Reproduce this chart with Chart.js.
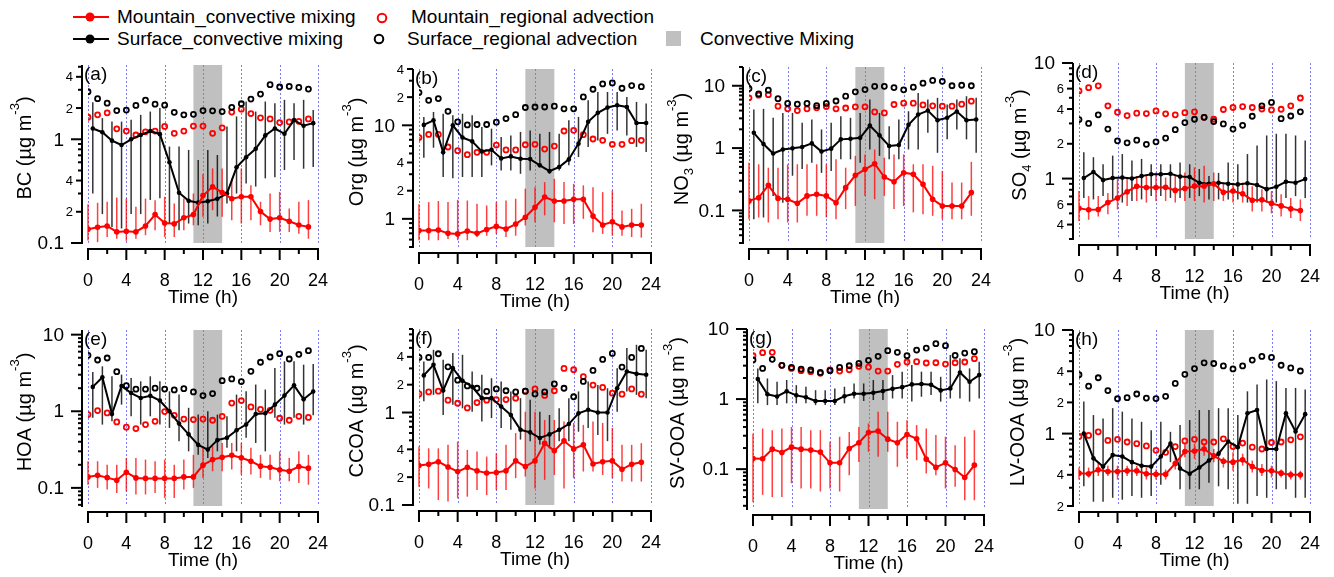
<!DOCTYPE html>
<html lang="en">
<head>
<meta charset="UTF-8">
<title>Diurnal cycles, mountain vs surface</title>
<script src="https://cdn.jsdelivr.net/npm/chart.js@4.4.0/dist/chart.umd.min.js"></script>
<style>
  body { margin:0; background:#fff; width:1334px; height:577px; position:relative; overflow:hidden;
         font-family:"Liberation Sans", Arial, sans-serif; }
  canvas { position:absolute; }
  .lg { position:absolute; font-size:19px; line-height:22px; color:#000; white-space:nowrap; }
  .mk { position:absolute; }
</style>
</head>
<body>
<svg class="mk" style="left:72px;top:8px" width="38" height="18"><line x1="1" y1="9" x2="37" y2="9" stroke="#f00" stroke-width="2"/><circle cx="18" cy="9" r="4.5" fill="#f00"/></svg>
<span class="lg" style="left:117px;top:6px">Mountain_convective mixing</span>
<svg class="mk" style="left:375px;top:11px" width="14" height="14"><circle cx="7" cy="7" r="4.3" fill="none" stroke="#f00" stroke-width="2"/></svg>
<span class="lg" style="left:411px;top:6px">Mountain_regional advection</span>
<svg class="mk" style="left:72px;top:30px" width="38" height="18"><line x1="1" y1="9" x2="37" y2="9" stroke="#000" stroke-width="2"/><circle cx="18" cy="9" r="4.5" fill="#000"/></svg>
<span class="lg" style="left:117px;top:28px">Surface_convective mixing</span>
<svg class="mk" style="left:372px;top:32px" width="14" height="14"><circle cx="7" cy="7" r="4.3" fill="none" stroke="#000" stroke-width="2"/></svg>
<span class="lg" style="left:407px;top:28px">Surface_regional advection</span>
<div class="mk" style="left:666px;top:31px;width:15px;height:15px;background:#c0c0c0"></div>
<span class="lg" style="left:700px;top:28px">Convective Mixing</span>

<script>
// hours of day; the surface convective series sits on the half hour
const hours = [0,1,2,3,4,5,6,7,8,9,10,11,12,13,14,15,16,17,18,19,20,21,22,23];
const hoursMid = [0.5,1.5,2.5,3.5,4.5,5.5,6.5,7.5,8.5,9.5,10.5,11.5,12.5,13.5,14.5,15.5,16.5,17.5,18.5,19.5,20.5,21.5,22.5,23.5];
const gridHours = [0,4,8,12,16,20,24];
const mixStart = 11, mixEnd = 14;

// (a) BC
const bcMtnConv   = [0.136,0.142,0.146,0.128,0.13,0.128,0.146,0.188,0.156,0.153,0.175,0.188,0.287,0.348,0.307,0.267,0.279,0.279,0.201,0.17,0.175,0.162,0.149,0.143];
const bcMtnConvLo = [0.106,0.102,0.114,0.110,0.105,0.110,0.119,0.133,0.114,0.114,0.133,0.148,0.179,0.207,0.179,0.166,0.154,0.166,0.148,0.128,0.128,0.128,0.123,0.110];
const bcMtnConvHi = [0.237,0.244,0.25,0.275,0.268,0.223,0.268,0.259,0.279,0.240,0.268,0.30,0.462,0.524,0.524,0.419,0.524,0.361,0.25,0.30,0.311,0.215,0.25,0.259];
const bcSfcConv   = [1.27,1.17,0.97,0.88,1.0,1.10,1.20,1.12,0.60,0.305,0.255,0.245,0.253,0.267,0.30,0.536,0.67,0.81,1.09,1.27,1.13,1.53,1.35,1.43];
const bcSfcConvLo = [0.30,0.19,0.143,0.138,0.19,0.19,0.26,0.27,0.154,0.133,0.154,0.148,0.154,0.18,0.24,0.30,0.375,0.35,0.42,0.43,0.505,0.63,0.52,0.54];
const bcSfcConvHi = [2.28,1.60,1.48,1.48,1.54,1.72,1.85,2.0,0.85,0.85,0.79,0.63,0.79,0.705,1.33,1.66,2.31,1.85,2.31,2.23,2.40,2.23,2.40,1.92];
const bcMtnReg    = [1.63,1.72,1.80,1.26,1.20,1.10,1.18,1.20,1.33,1.14,1.20,1.34,1.34,1.14,1.29,1.83,1.95,1.77,1.61,1.57,1.45,1.47,1.49,1.57];
const bcSfcReg    = [2.87,2.46,2.23,1.89,1.91,2.12,2.38,2.18,2.13,1.82,1.72,1.74,1.89,1.88,1.85,2.03,2.20,2.44,2.73,3.36,3.19,3.23,3.16,3.05];

// (b) Org
const orgMtnConv   = [0.75,0.75,0.76,0.70,0.69,0.74,0.70,0.77,0.83,0.78,0.88,1.04,1.33,1.71,1.55,1.55,1.62,1.62,1.07,0.86,0.93,0.82,0.86,0.86];
const orgMtnConvLo = [0.59,0.59,0.59,0.61,0.59,0.59,0.64,0.66,0.69,0.64,0.66,0.85,0.92,1.09,0.92,0.88,0.88,1.0,0.72,0.69,0.66,0.66,0.64,0.63];
const orgMtnConvHi = [1.43,1.51,1.55,1.51,1.60,1.57,1.45,1.39,1.51,1.57,1.64,2.10,2.18,2.47,2.68,2.47,2.37,2.28,2.18,1.93,2.01,1.23,1.28,1.45];
const orgSfcConv   = [10.1,11.3,5.14,10.0,7.4,6.74,5.26,5.48,4.43,4.65,4.39,4.35,3.73,3.24,3.58,4.32,6.37,10.9,13.6,15.5,16.4,15.7,10.6,10.6];
const orgSfcConvLo = [4.5,5.76,2.8,2.72,2.8,2.8,2.8,3.73,3.29,3.29,3.03,3.29,3.73,3.03,3.29,3.73,4.58,5.86,6.9,8.1,8.8,7.8,5.86,5.18];
const orgSfcConvHi = [12.3,13.9,13.3,12.8,13.3,12.8,9.6,9.2,7.5,7.8,8.5,8.8,8.1,8.5,8.1,11.3,12.3,18.5,22.7,22.7,22.7,20.1,17.8,17.1];
const orgMtnReg    = [7.4,8.0,8.0,5.86,5.36,4.85,5.14,5.14,6.15,5.45,5.45,6.2,6.26,5.57,6.0,8.69,8.84,7.94,7.14,6.91,6.26,6.26,6.85,6.91];
const orgSfcReg    = [22.4,18.5,19.3,14.1,10.9,10.1,10.2,10.2,10.8,11.8,13.0,15.5,15.7,15.7,16.0,15.0,15.0,20.1,24.3,27.7,28.4,24.9,26.6,25.9];

// (c) NO3
const no3MtnConv   = [0.142,0.16,0.253,0.156,0.151,0.13,0.171,0.181,0.171,0.133,0.232,0.365,0.456,0.56,0.343,0.289,0.403,0.38,0.262,0.151,0.118,0.118,0.118,0.193];
const no3MtnConvLo = [0.072,0.077,0.064,0.072,0.064,0.064,0.082,0.082,0.077,0.072,0.105,0.118,0.171,0.151,0.171,0.105,0.118,0.093,0.087,0.082,0.072,0.072,0.072,0.082];
const no3MtnConvHi = [0.58,0.55,0.485,0.485,0.55,0.55,0.55,0.55,0.55,0.66,0.485,0.75,0.79,0.95,0.70,0.79,0.79,0.55,0.55,0.52,0.43,0.28,0.28,0.60];
const no3SfcConv   = [1.76,1.16,0.82,0.95,0.99,1.04,1.19,0.88,0.98,1.38,1.41,1.46,2.3,1.6,1.08,1.12,2.36,3.46,4.0,2.8,3.06,3.86,2.8,2.87];
const no3SfcConvLo = [0.072,0.077,0.171,0.133,0.36,0.46,0.58,0.40,0.43,0.66,0.66,0.58,0.95,0.75,0.66,0.66,0.95,0.95,1.76,0.84,1.38,1.99,1.38,0.84];
const no3SfcConvHi = [4.15,4.26,3.06,3.67,3.67,2.54,2.87,1.99,2.54,3.25,3.06,3.67,6.0,3.67,2.25,2.87,3.9,7.68,6.0,6.4,5.0,6.0,6.8,6.4];
const no3MtnReg    = [6.4,7.05,7.2,4.7,4.26,4.0,4.26,4.42,4.64,4.26,4.4,4.6,4.6,3.8,3.67,5.0,5.25,5.25,4.93,4.76,4.7,4.7,5.06,5.65];
const no3SfcReg    = [9.0,7.4,8.5,6.2,5.2,5.06,5.2,4.8,5.2,5.7,6.8,8.0,8.7,9.8,9.8,9.35,8.6,9.5,11.0,12.2,11.8,10.0,10.2,10.0];

// (d) SO4
const so4MtnConv   = [0.553,0.536,0.54,0.62,0.68,0.77,0.857,0.835,0.835,0.84,0.79,0.82,0.86,0.86,0.90,0.76,0.78,0.74,0.65,0.655,0.61,0.58,0.547,0.53];
const so4MtnConvLo = [0.43,0.44,0.47,0.49,0.54,0.58,0.64,0.62,0.64,0.64,0.62,0.64,0.64,0.62,0.64,0.64,0.62,0.62,0.52,0.52,0.50,0.47,0.456,0.43];
const so4MtnConvHi = [0.78,0.705,0.705,0.75,0.99,1.02,1.05,1.09,1.13,1.02,1.05,1.13,1.25,1.29,1.13,0.92,0.92,0.92,0.86,0.81,0.78,0.73,0.68,0.66];
const so4SfcConv   = [1.01,1.14,0.97,1.01,1.02,1.0,1.05,1.09,1.09,1.1,1.04,1.03,0.92,0.90,0.92,0.90,0.89,0.91,0.88,0.81,0.85,0.94,0.92,0.99];
const so4SfcConvLo = [0.68,0.66,0.705,0.66,0.62,0.64,0.66,0.705,0.705,0.68,0.68,0.68,0.705,0.66,0.66,0.66,0.66,0.62,0.62,0.62,0.62,0.68,0.705,0.68];
const so4SfcConvHi = [1.69,1.53,1.33,1.58,1.63,1.43,1.48,1.33,1.33,1.33,1.38,1.33,1.21,1.05,1.12,1.38,1.33,1.63,1.93,2.36,2.44,2.44,2.36,2.13];
const so4MtnReg    = [5.73,6.12,6.34,4.26,3.75,3.51,3.68,3.65,3.85,3.63,3.56,3.72,3.78,3.39,3.26,3.96,4.12,4.2,4.12,4.0,3.93,3.98,4.26,4.98];
const so4SfcReg    = [3.24,3.0,3.56,2.68,2.12,2.04,2.15,1.98,2.08,2.24,2.65,3.05,3.26,3.39,3.11,2.97,2.68,2.89,3.46,4.26,4.56,3.30,3.48,3.78];

// (e) HOA
const hoaMtnConv   = [0.139,0.146,0.136,0.126,0.16,0.135,0.133,0.133,0.133,0.133,0.139,0.139,0.198,0.234,0.251,0.267,0.247,0.223,0.192,0.186,0.172,0.165,0.19,0.181];
const hoaMtnConvLo = [0.11,0.10,0.095,0.086,0.09,0.082,0.082,0.086,0.074,0.074,0.095,0.10,0.135,0.165,0.165,0.174,0.149,0.149,0.135,0.128,0.122,0.122,0.116,0.11];
const hoaMtnConvHi = [0.223,0.223,0.20,0.20,0.246,0.246,0.234,0.223,0.234,0.20,0.234,0.27,0.333,0.35,0.386,0.386,0.386,0.333,0.27,0.27,0.30,0.246,0.30,0.27];
const hoaSfcConv   = [2.08,2.78,0.92,2.14,1.73,1.49,1.59,1.38,1.0,0.69,0.50,0.364,0.316,0.42,0.45,0.565,0.67,0.92,0.94,1.22,1.60,2.18,1.43,1.81];
const hoaSfcConvLo = [0.82,0.67,0.74,1.22,0.86,0.67,0.86,0.67,0.606,0.406,0.30,0.27,0.246,0.30,0.333,0.30,0.45,0.386,0.30,0.82,0.67,0.82,0.67,0.887];
const hoaSfcConvHi = [3.26,3.86,2.86,3.01,2.72,2.46,2.86,2.46,1.82,1.65,1.11,0.905,1.0,0.905,0.86,1.65,1.82,2.23,1.92,3.67,4.49,4.49,4.06,4.14];
const hoaMtnReg    = [0.905,1.02,0.95,0.726,0.62,0.594,0.67,0.74,0.99,0.886,0.79,0.78,0.79,0.763,0.86,1.28,1.38,1.14,1.06,1.03,0.81,0.763,0.86,0.83];
const hoaSfcReg    = [5.37,4.67,4.96,3.29,2.16,1.94,1.94,2.0,1.95,1.90,1.97,1.79,1.60,1.70,2.51,2.64,2.44,3.32,4.36,5.11,5.65,4.81,5.54,6.18];

// (f) CCOA
const ccoaMtnConv   = [0.267,0.276,0.294,0.258,0.23,0.256,0.234,0.222,0.224,0.234,0.30,0.26,0.30,0.466,0.385,0.494,0.404,0.447,0.278,0.294,0.30,0.243,0.276,0.29];
const ccoaMtnConvLo = [0.158,0.151,0.113,0.109,0.118,0.123,0.145,0.128,0.145,0.145,0.195,0.203,0.151,0.187,0.211,0.151,0.195,0.23,0.23,0.211,0.195,0.179,0.179,0.179];
const ccoaMtnConvHi = [0.428,0.41,0.41,0.447,0.485,0.394,0.378,0.334,0.363,0.447,0.60,1.02,1.02,0.83,0.83,0.80,0.77,0.735,0.80,0.77,0.68,0.447,0.447,0.466];
const ccoaSfcConv   = [2.52,3.28,1.73,3.02,2.2,1.9,1.43,1.43,1.16,0.94,0.65,0.61,0.53,0.58,0.65,0.75,0.98,1.07,1.0,1.0,1.83,2.78,2.62,2.56];
const ccoaSfcConvLo = [1.32,1.55,0.94,1.21,1.11,1.02,0.80,0.87,0.68,0.65,0.51,0.49,0.45,0.41,0.49,0.49,0.62,0.68,0.57,0.49,1.02,1.69,1.55,1.43];
const ccoaSfcConvHi = [3.57,4.77,3.72,4.39,4.21,2.78,2.56,2.35,2.17,1.69,1.43,1.37,1.02,0.94,1.11,1.43,1.69,2.17,1.99,1.83,3.02,4.97,5.4,4.77];
const ccoaMtnReg    = [1.59,1.67,1.70,1.36,1.26,1.12,1.28,1.36,1.38,1.38,1.43,1.70,1.80,1.53,1.72,3.0,2.9,2.45,1.98,1.87,1.62,1.58,1.80,1.58];
const ccoaSfcReg    = [3.94,3.94,4.32,3.12,2.24,1.94,1.83,1.69,1.80,1.72,1.67,1.70,1.59,1.67,2.04,1.83,1.48,2.17,2.85,3.75,4.35,3.1,3.94,4.93];

// (g) SV-OOA
const svMtnConv   = [0.142,0.141,0.193,0.173,0.206,0.193,0.187,0.175,0.123,0.123,0.197,0.238,0.334,0.349,0.268,0.238,0.313,0.271,0.139,0.106,0.123,0.099,0.076,0.114];
const svMtnConvLo = [0.034,0.043,0.04,0.04,0.063,0.053,0.053,0.048,0.053,0.048,0.082,0.127,0.177,0.15,0.177,0.108,0.142,0.134,0.087,0.082,0.053,0.056,0.036,0.036];
const svMtnConvHi = [0.32,0.38,0.36,0.38,0.40,0.40,0.36,0.36,0.246,0.29,0.34,0.40,0.45,0.66,0.66,0.475,0.50,0.425,0.38,0.306,0.29,0.22,0.29,0.36];
const svSfcConv   = [1.93,1.17,1.09,1.29,1.13,1.06,0.94,0.94,0.94,1.10,1.19,1.19,1.23,1.30,1.40,1.48,1.62,1.64,1.60,1.33,1.42,2.40,1.77,2.20];
const svSfcConvLo = [0.87,0.82,0.82,0.87,0.87,0.87,0.82,0.82,0.82,0.87,1.02,0.94,0.97,0.97,1.02,1.02,0.92,1.08,1.14,0.92,1.02,1.02,0.92,1.02];
const svSfcConvHi = [2.74,1.97,1.77,1.87,1.58,1.50,1.34,1.34,1.42,1.50,1.67,1.67,1.87,1.87,2.2,2.46,3.06,2.46,2.46,2.08,4.26,3.81,2.74,3.42];
const svMtnReg    = [4.16,4.59,4.64,3.03,2.74,2.54,2.46,2.33,2.60,2.51,2.62,2.93,2.86,2.51,2.51,3.13,3.38,3.42,3.27,3.30,3.16,3.30,3.38,3.77];
const svSfcReg    = [3.61,2.74,3.69,3.03,2.83,2.68,2.60,2.40,2.54,2.83,2.99,3.23,3.57,4.07,4.9,4.64,4.16,5.01,5.35,6.17,5.78,4.2,4.54,4.75];

// (h) LV-OOA
const lvMtnConv   = [0.415,0.41,0.447,0.43,0.43,0.437,0.437,0.41,0.405,0.405,0.515,0.67,0.68,0.71,0.61,0.54,0.53,0.56,0.48,0.44,0.437,0.415,0.40,0.40];
const lvMtnConvLo = [0.36,0.376,0.39,0.39,0.36,0.39,0.39,0.36,0.36,0.36,0.45,0.59,0.57,0.61,0.53,0.47,0.437,0.49,0.42,0.39,0.376,0.376,0.36,0.36];
const lvMtnConvHi = [0.47,0.47,0.53,0.49,0.49,0.49,0.49,0.47,0.45,0.45,0.59,0.80,0.80,0.80,0.71,0.59,0.66,0.64,0.55,0.51,0.49,0.45,0.437,0.437];
const lvSfcConv   = [1.0,0.577,0.48,0.62,0.60,0.53,0.49,0.48,0.60,0.80,0.46,0.41,0.47,0.55,0.64,0.84,0.74,1.57,1.69,0.71,0.71,1.57,1.05,1.54];
const lvSfcConvLo = [0.31,0.22,0.22,0.24,0.23,0.25,0.24,0.25,0.32,0.53,0.29,0.29,0.29,0.336,0.31,0.29,0.21,0.21,0.25,0.24,0.29,0.29,0.24,0.24];
const lvSfcConvHi = [2.04,1.51,1.40,1.76,1.63,1.40,1.30,1.08,1.30,1.04,1.21,1.35,1.69,1.69,1.76,1.76,1.51,2.56,2.98,3.33,3.21,2.76,2.76,2.66];
const lvMtnReg    = [0.94,0.96,1.04,0.86,0.88,0.83,0.80,0.76,0.69,0.66,0.75,0.85,0.88,0.83,0.83,0.89,0.75,0.81,0.74,0.71,0.82,0.83,0.87,0.93];
const lvSfcReg    = [3.7,2.87,3.46,2.6,2.17,2.22,2.41,2.20,2.18,2.29,3.05,3.73,4.24,4.82,4.75,4.5,4.21,4.5,5.12,5.56,5.43,4.57,4.30,4.02];

const FAM = '"Liberation Sans", Arial, sans-serif';
Chart.defaults.font.family = FAM;
Chart.defaults.color = '#000';

// panel table: plot area in page px [left, top, right, bottom], y range, labelled minor ticks
const panels = [
  { letter:'(a)', area:[88,65,318,243],  yMin:0.1,   yMax:5.2,  minorLabels:[0.2,0.4,2,4],       title:[['BC (µg m',0],['-3',1],[')',0]],               titleDx:-63,
    mtn:bcMtnConv, mtnLo:bcMtnConvLo, mtnHi:bcMtnConvHi, sfc:bcSfcConv, sfcLo:bcSfcConvLo, sfcHi:bcSfcConvHi, mtnReg:bcMtnReg, sfcReg:bcSfcReg },
  { letter:'(b)', area:[419,69,651,247], yMin:0.5,   yMax:40,   minorLabels:[2,4,20,40],         title:[['Org (µg m',0],['-3',1],[')',0]],              titleDx:-62,
    mtn:orgMtnConv, mtnLo:orgMtnConvLo, mtnHi:orgMtnConvHi, sfc:orgSfcConv, sfcLo:orgSfcConvLo, sfcHi:orgSfcConvHi, mtnReg:orgMtnReg, sfcReg:orgSfcReg },
  { letter:'(c)', area:[749,67,981,243], yMin:0.03,  yMax:20,   minorLabels:[],                  title:[['NO',0],['3',-1],[' (µg m',0],['-3',1],[')',0]], titleDx:-67,
    mtn:no3MtnConv, mtnLo:no3MtnConvLo, mtnHi:no3MtnConvHi, sfc:no3SfcConv, sfcLo:no3SfcConvLo, sfcHi:no3SfcConvHi, mtnReg:no3MtnReg, sfcReg:no3SfcReg },
  { letter:'(d)', area:[1079,63,1310,239], yMin:0.3, yMax:10,   minorLabels:[0.4,0.6,2,4,6],     title:[['SO',0],['4',-1],[' (µg m',0],['-3',1],[')',0]], titleDx:-59,
    mtn:so4MtnConv, mtnLo:so4MtnConvLo, mtnHi:so4MtnConvHi, sfc:so4SfcConv, sfcLo:so4SfcConvLo, sfcHi:so4SfcConvHi, mtnReg:so4MtnReg, sfcReg:so4SfcReg },
  { letter:'(e)', area:[88,330,318,506], yMin:0.058, yMax:11.5, minorLabels:[],                  title:[['HOA (µg m',0],['-3',1],[')',0]],              titleDx:-63,
    mtn:hoaMtnConv, mtnLo:hoaMtnConvLo, mtnHi:hoaMtnConvHi, sfc:hoaSfcConv, sfcLo:hoaSfcConvLo, sfcHi:hoaSfcConvHi, mtnReg:hoaMtnReg, sfcReg:hoaSfcReg },
  { letter:'(f)', area:[419,329,651,505], yMin:0.1,  yMax:8,    minorLabels:[0.2,0.4,2,4],       title:[['CCOA (µg m',0],['-3',1],[')',0]],             titleDx:-62,
    mtn:ccoaMtnConv, mtnLo:ccoaMtnConvLo, mtnHi:ccoaMtnConvHi, sfc:ccoaSfcConv, sfcLo:ccoaSfcConvLo, sfcHi:ccoaSfcConvHi, mtnReg:ccoaMtnReg, sfcReg:ccoaSfcReg },
  { letter:'(g)', area:[753,329,984,509], yMin:0.027, yMax:10,  minorLabels:[],                  title:[['SV-OOA (µg m',0],['-3',1],[')',0]],           titleDx:-75,
    mtn:svMtnConv, mtnLo:svMtnConvLo, mtnHi:svMtnConvHi, sfc:svSfcConv, sfcLo:svSfcConvLo, sfcHi:svSfcConvHi, mtnReg:svMtnReg, sfcReg:svSfcReg },
  { letter:'(h)', area:[1079,330,1310,506], yMin:0.2, yMax:10,  minorLabels:[0.2,0.4,2,4],       title:[['LV-OOA (µg m',0],['-3',1],[')',0]],           titleDx:-61,
    mtn:lvMtnConv, mtnLo:lvMtnConvLo, mtnHi:lvMtnConvHi, sfc:lvSfcConv, sfcLo:lvSfcConvLo, sfcHi:lvSfcConvHi, mtnReg:lvMtnReg, sfcReg:lvSfcReg }
];

const L = 92, T = 10, R = 18, B = 74;

function near(a, b) { return Math.abs(a - b) / b < 1e-6; }

function drawYTitle(ctx, parts, cx, cy) {
  ctx.save();
  ctx.translate(cx, cy);
  ctx.rotate(-Math.PI / 2);
  const big = '20px ' + FAM, small = '13px ' + FAM;
  let total = 0;
  parts.forEach(([t, m]) => { ctx.font = m ? small : big; total += ctx.measureText(t).width; });
  let x = -total / 2;
  ctx.textAlign = 'left';
  ctx.textBaseline = 'middle';
  ctx.fillStyle = '#000';
  parts.forEach(([t, m]) => {
    ctx.font = m ? small : big;
    const dy = m === 1 ? -10 : (m === -1 ? 7 : 0);
    ctx.fillText(t, x, dy);
    x += ctx.measureText(t).width;
  });
  ctx.restore();
}

function igorPlugin(p) {
  function bars(chart, xs, lo, hi, color) {
    const {ctx, chartArea: a, scales: {x, y}} = chart;
    ctx.strokeStyle = color;
    ctx.lineWidth = 1.5;
    xs.forEach((h, i) => {
      const px = x.getPixelForValue(h);
      const y0 = lo[i] <= p.yMin ? a.bottom : Math.min(a.bottom, y.getPixelForValue(lo[i]));
      const y1 = hi[i] >= p.yMax ? a.top : Math.max(a.top, y.getPixelForValue(hi[i]));
      ctx.beginPath(); ctx.moveTo(px, y0); ctx.lineTo(px, y1); ctx.stroke();
    });
  }
  return {
    id: 'igor',
    beforeDatasetsDraw(chart) {
      const {ctx, chartArea: a, scales: {x}} = chart;
      ctx.save();
      // convective mixing window
      const x0 = x.getPixelForValue(mixStart), x1 = x.getPixelForValue(mixEnd);
      ctx.fillStyle = '#c0c0c0';
      ctx.fillRect(x0, a.top, x1 - x0, a.bottom - a.top);
      // dotted hour guides
      ctx.strokeStyle = '#7a7aff';
      ctx.lineWidth = 1;
      ctx.setLineDash([2, 2]);
      gridHours.forEach(h => {
        const px = Math.round(x.getPixelForValue(h)) + 0.5;
        ctx.beginPath(); ctx.moveTo(px, a.top); ctx.lineTo(px, a.bottom); ctx.stroke();
      });
      ctx.setLineDash([]);
      // error bars
      bars(chart, hoursMid, p.sfcLo, p.sfcHi, 'rgba(0,0,0,0.8)');
      bars(chart, hours, p.mtnLo, p.mtnHi, 'rgba(255,0,0,0.75)');
      ctx.restore();
    },
    afterDraw(chart) {
      const {ctx, chartArea: a, scales: {x, y}} = chart;
      ctx.save();
      ctx.strokeStyle = '#000';
      ctx.fillStyle = '#000';
      ctx.lineWidth = 2;
      // x axis, set a little below the plot
      const ay = a.bottom + 6;
      ctx.beginPath(); ctx.moveTo(a.left - 1, ay); ctx.lineTo(a.right + 1, ay); ctx.stroke();
      for (let h = 0; h <= 24; h += 2) {
        const px = x.getPixelForValue(h);
        ctx.beginPath(); ctx.moveTo(px, ay); ctx.lineTo(px, ay + (h % 4 === 0 ? 11 : 5)); ctx.stroke();
      }
      // y axis, set a little left of the plot
      const ax = a.left - 6;
      ctx.beginPath(); ctx.moveTo(ax, a.top); ctx.lineTo(ax, a.bottom + 1); ctx.stroke();
      ctx.textAlign = 'right';
      ctx.textBaseline = 'middle';
      const e0 = Math.floor(Math.log10(p.yMin)), e1 = Math.ceil(Math.log10(p.yMax));
      for (let e = e0; e <= e1; e++) {
        for (let m = 1; m <= 9; m++) {
          const v = m * Math.pow(10, e);
          if (v < p.yMin * 0.999 || v > p.yMax * 1.001) continue;
          const py = y.getPixelForValue(v);
          const labelled = p.minorLabels.some(t => near(v, t));
          let len = 4;
          if (m === 1) len = 11; else if (labelled) len = 6;
          ctx.beginPath(); ctx.moveTo(ax, py); ctx.lineTo(ax - len, py); ctx.stroke();
          if (m === 1) {
            ctx.font = '19px ' + FAM;
            ctx.fillText(e >= 0 ? String(Math.pow(10, e)) : Math.pow(10, e).toFixed(-e), ax - 18, py + 1);
          } else if (labelled) {
            ctx.font = '13px ' + FAM;
            ctx.fillText(String(m), ax - 9, py + 1);
          }
        }
      }
      // panel letter
      ctx.textAlign = 'left';
      ctx.textBaseline = 'top';
      ctx.font = '19px ' + FAM;
      ctx.fillText(p.letter, a.left - 4, a.top);
      ctx.restore();
      drawYTitle(ctx, p.title, a.left + p.titleDx, (a.top + a.bottom) / 2 - 6);
    }
  };
}

panels.forEach(p => {
  const [l, t, r, b] = p.area;
  const cv = document.createElement('canvas');
  cv.width = r - l + L + R;
  cv.height = b - t + T + B;
  cv.style.left = (l - L) + 'px';
  cv.style.top = (t - T) + 'px';
  document.body.appendChild(cv);

  new Chart(cv, {
    type: 'line',
    data: {
      datasets: [
        { label: 'Mountain_convective mixing', data: hours.map((h, i) => ({x: h, y: p.mtn[i]})),
          borderColor: '#ff0000', backgroundColor: '#ff0000', borderWidth: 2,
          pointRadius: 2.8, pointBorderWidth: 0, order: 0 },
        { label: 'Surface_convective mixing', data: hoursMid.map((h, i) => ({x: h, y: p.sfc[i]})),
          borderColor: '#000000', backgroundColor: '#000000', borderWidth: 2,
          pointRadius: 2.3, pointBorderWidth: 0, order: 1 },
        { label: 'Surface_regional advection', data: hours.map((h, i) => ({x: h, y: p.sfcReg[i]})),
          showLine: false, borderColor: '#000000', pointBackgroundColor: 'rgba(0,0,0,0)',
          pointRadius: 2.5, pointBorderWidth: 1.8, order: 2 },
        { label: 'Mountain_regional advection', data: hours.map((h, i) => ({x: h, y: p.mtnReg[i]})),
          showLine: false, borderColor: '#ff0000', pointBackgroundColor: 'rgba(0,0,0,0)',
          pointRadius: 2.5, pointBorderWidth: 1.8, order: 3 }
      ]
    },
    options: {
      responsive: false,
      animation: false,
      events: [],
      layout: { padding: { left: 0, top: T, right: R, bottom: 0 } },
      plugins: { legend: { display: false }, tooltip: { enabled: false } },
      scales: {
        x: {
          type: 'linear', min: 0, max: 24,
          grid: { display: false, drawTicks: false },
          border: { display: false },
          ticks: { stepSize: 4, padding: 27, font: { size: 18 }, color: '#000', maxRotation: 0, autoSkip: false },
          title: { display: true, text: 'Time (h)', font: { size: 19 }, color: '#000', padding: { top: 0, bottom: 8 } },
          afterFit: s => { s.height = B; s.paddingLeft = 0; s.paddingRight = 0; }
        },
        y: {
          type: 'logarithmic', min: p.yMin, max: p.yMax,
          grid: { display: false, drawTicks: false },
          border: { display: false },
          ticks: { display: false },
          afterFit: s => { s.width = L; s.paddingTop = 0; s.paddingBottom = 0; }
        }
      }
    },
    plugins: [igorPlugin(p)]
  });
});
</script>
</body>
</html>
